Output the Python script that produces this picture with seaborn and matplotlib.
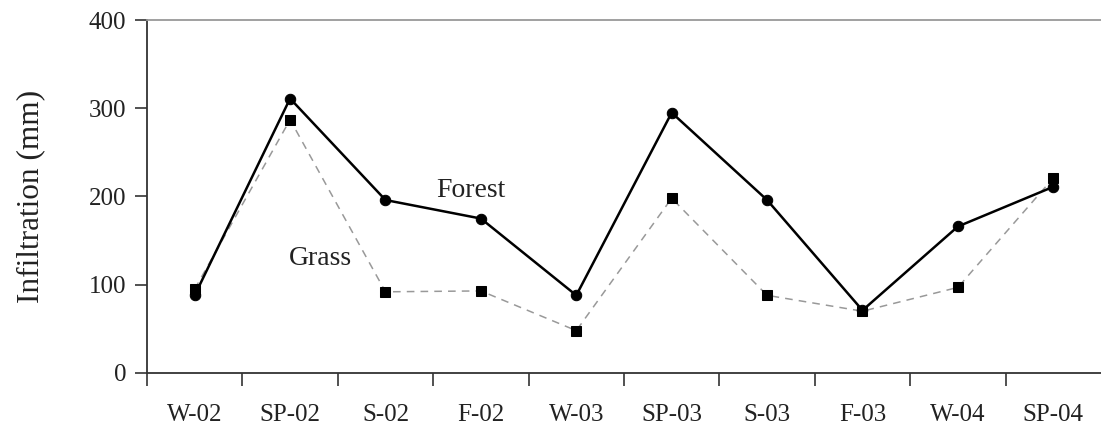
import matplotlib
matplotlib.use("Agg")
import matplotlib.pyplot as plt
import seaborn as sns
import pandas as pd
import numpy as np

seasons = ["W-02", "SP-02", "S-02", "F-02", "W-03", "SP-03", "S-03", "F-03", "W-04", "SP-04"]
forest = [88, 311, 196, 175, 88, 295, 196, 71, 166, 211]
grass = [95, 287, 92, 93, 48, 198, 88, 70, 97, 221]
yticks = [0, 100, 200, 300, 400]

sns.set_style("white")
plt.rcParams["font.family"] = ["Liberation Serif", "DejaVu Serif"]

df = pd.DataFrame({
    "season": seasons * 2,
    "value": forest + grass,
    "type": ["Forest"] * len(seasons) + ["Grass"] * len(seasons),
})

fig = plt.figure(figsize=(11.01, 4.32), dpi=100)
ax = fig.add_axes([0.1335, 0.1366, 0.8665, 0.8171])

sns.lineplot(data=df[df.type == "Grass"], x="season", y="value", ax=ax,
             color="#999999", linewidth=1.1, linestyle=(0, (5, 4)),
             marker="s", markersize=7.5, markerfacecolor="black",
             markeredgecolor="black", sort=False, legend=False)
sns.lineplot(data=df[df.type == "Forest"], x="season", y="value", ax=ax,
             color="black", linewidth=1.8, marker="o", markersize=7.5,
             markerfacecolor="black", markeredgecolor="black",
             sort=False, legend=False)

ax.set_xlim(-0.5, len(seasons) - 0.5)
ax.set_ylim(0, 400)
ax.set_yticks(yticks)
ax.set_yticklabels([str(v) for v in yticks], fontsize=18, color="#222222")

ax.set_xticks(np.arange(len(seasons)) - 0.5)
ax.set_xticklabels([])
ax.set_xticks(np.arange(len(seasons)), minor=True)
ax.set_xticklabels(seasons, minor=True, fontsize=18, color="#222222")
ax.tick_params(axis="x", which="major", direction="out", length=9, width=1.2,
               color="#333333", bottom=True)
ax.tick_params(axis="x", which="minor", length=0, pad=22)
ax.tick_params(axis="y", which="major", direction="out", length=9, width=1.2,
               color="#333333", left=True, pad=6)

ax.set_xlabel("")
ax.set_ylabel("Infiltration (mm)", fontsize=22.5, color="#222222", labelpad=31)

for s in ["left", "bottom"]:
    ax.spines[s].set_color("#333333")
    ax.spines[s].set_linewidth(1.3)
ax.spines["top"].set_color("#999999")
ax.spines["top"].set_linewidth(1.3)
ax.spines["right"].set_visible(False)

ax.text(2.53, 207, "Forest", fontsize=20, color="#222222", va="center", ha="left")
ax.text(0.99, 130, "Grass", fontsize=20, color="#222222", va="center", ha="left")

fig.savefig("out.png", dpi=100)
